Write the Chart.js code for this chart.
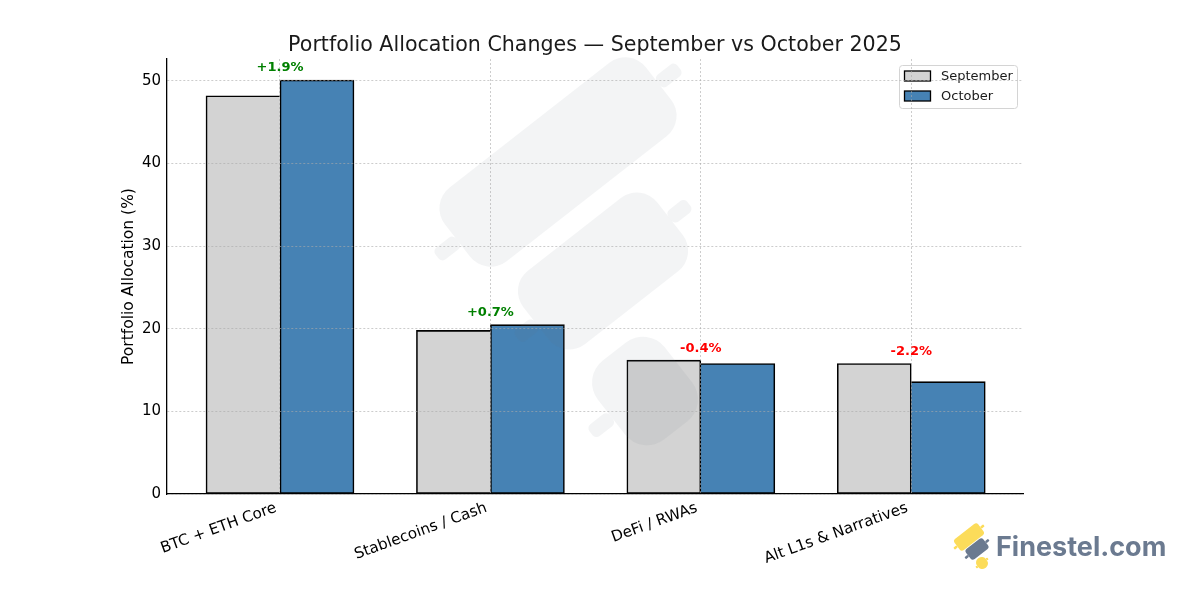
<!DOCTYPE html>
<html lang="en">
<head>
    <meta charset="UTF-8">
    <title>Portfolio Allocation Changes</title>
    <script src="https://cdnjs.cloudflare.com/ajax/libs/Chart.js/4.4.1/chart.umd.min.js"></script>
    <style>
        html, body { margin: 0; padding: 0; background: #fff; }
        #wrap { width: 1200px; height: 600px; }
    </style>
</head>
<body>
    <div id="wrap"><canvas id="allocationChart" width="1200" height="600"></canvas></div>

    <script>
        const categories = ["BTC + ETH Core", "Stablecoins / Cash", "DeFi / RWAs", "Alt L1s & Narratives"];
        const september = [48.2, 19.8, 16.2, 15.8];
        const october = [50.1, 20.5, 15.8, 13.6];
        const changes = [1.9, 0.7, -0.4, -2.2];

        const font = "'DejaVu Sans'";

        // rotated rounded box, used for the watermark and the logo candles
        function candle(ctx, cx, cy, len, wid, rad, wickLow, wickHigh, wickWid, color) {
            ctx.save();
            ctx.translate(cx, cy);
            ctx.rotate(-38 * Math.PI / 180);
            ctx.fillStyle = color;
            ctx.beginPath();
            ctx.roundRect(-len / 2, -wid / 2, len, wid, rad);
            ctx.fill();
            ctx.beginPath();
            if (wickLow) ctx.roundRect(-len / 2 - wickLow, -wickWid / 2, wickLow, wickWid, wickWid / 3);
            if (wickHigh) ctx.roundRect(len / 2, -wickWid / 2, wickHigh, wickWid, wickWid / 3);
            ctx.fill();
            ctx.restore();
        }

        const extras = {
            id: "extras",
            afterDatasetsDraw(chart) {
                const ctx = chart.ctx;
                const x = chart.scales.x;
                const y = chart.scales.y;

                // watermark sits over the bars
                const mark = "rgba(100,110,130,0.08)";
                candle(ctx, 558, 162, 255, 93, 26, 26, 26, 15, mark);
                candle(ctx, 603, 271, 170, 93, 26, 24, 24, 15, mark);
                candle(ctx, 645, 391, 85, 100, 28, 26, 0, 15, mark);

                // change labels
                ctx.save();
                ctx.font = "bold 13px " + font;
                ctx.textAlign = "center";
                ctx.textBaseline = "middle";
                changes.forEach((c, i) => {
                    const top = Math.max(september[i], october[i]);
                    ctx.fillStyle = c > 0 ? "#008000" : "#ff0000";
                    ctx.fillText((c > 0 ? "+" : "") + c.toFixed(1) + "%", x.getPixelForValue(i), y.getPixelForValue(top) - 12);
                });
                ctx.restore();

                // legend
                ctx.save();
                ctx.fillStyle = "rgba(255,255,255,0.85)";
                ctx.strokeStyle = "#d4d4d4";
                ctx.lineWidth = 1;
                ctx.beginPath();
                ctx.roundRect(899.5, 65.5, 118, 43, 3);
                ctx.fill();
                ctx.stroke();
                ctx.font = "13px " + font;
                ctx.textBaseline = "middle";
                chart.data.datasets.forEach((ds, i) => {
                    const top = 71 + i * 20;
                    ctx.fillStyle = ds.backgroundColor;
                    ctx.strokeStyle = "#000";
                    ctx.lineWidth = 1.3;
                    ctx.fillRect(904.5, top, 26, 10);
                    ctx.strokeRect(904.5, top, 26, 10);
                    ctx.fillStyle = "#1a1a1a";
                    ctx.fillText(ds.label, 941, top + 6);
                });
                ctx.restore();

                // logo
                candle(ctx, 969, 537, 30, 14, 3, 4, 4, 2.5, "#fcdc5a");
                candle(ctx, 977, 549, 22, 13, 3, 4, 4, 2.5, "#6b7a90");
                candle(ctx, 982, 563, 11, 12, 5, 2, 2, 2.5, "#fcdc5a");
                ctx.save();
                ctx.font = "bold 27px Inter";
                ctx.fillStyle = "#6b7a90";
                ctx.textBaseline = "middle";
                ctx.fillText("Finestel.com", 996, 548);
                ctx.restore();
            }
        };

        const allocationChart = new Chart("allocationChart", {
            type: "bar",
            data: {
                datasets: [{
                    label: "September",
                    data: september.map((v, i) => ({ x: i, y: v })),
                    backgroundColor: "#d3d3d3",
                    borderColor: "#000",
                    borderWidth: 1.6,
                    // the taller bar of a pair owns the shared edge
                    borderSkipped: (c) => october[c.dataIndex] > september[c.dataIndex] ? "right" : false,
                    barThickness: 74,
                }, {
                    label: "October",
                    data: october.map((v, i) => ({ x: i, y: v })),
                    backgroundColor: "#4682b4",
                    borderColor: "#000",
                    borderWidth: 1.6,
                    borderSkipped: (c) => october[c.dataIndex] > september[c.dataIndex] ? false : "left",
                    barThickness: 74,
                }]
            },
            options: {
                responsive: false,
                animation: false,
                devicePixelRatio: 1,
                layout: { padding: { top: 33, left: 120, right: 177, bottom: 9 } },
                plugins: {
                    legend: { display: false },
                    tooltip: { enabled: false },
                    title: {
                        display: true,
                        fullSize: false,
                        text: "Portfolio Allocation Changes \u2014 September vs October 2025",
                        color: "#1a1a1a",
                        font: { family: font, size: 20.6, weight: "normal" },
                        padding: { top: 0, bottom: 1.3 },
                    },
                },
                scales: {
                    x: {
                        type: "linear",
                        offset: false,
                        min: -0.537,
                        max: 3.531,
                        afterFit(axis) { axis.height = 97; },
                        grid: { color: "rgba(170,170,170,0.6)", z: 1, drawTicks: false, lineWidth: 1, offset: false },
                        border: { color: "#000", width: 1.3, dash: [2, 2], z: 1 },
                        ticks: {
                            stepSize: 1,
                            includeBounds: false,
                            autoSkip: false,
                            minRotation: 20,
                            maxRotation: 20,
                            padding: 5,
                            labelOffset: -4,
                            color: "#000",
                            font: { family: font, size: 15.2 },
                            callback: (v) => categories[v],
                        },
                    },
                    y: {
                        min: 0,
                        max: 52.65,
                        afterFit(axis) { axis.width = 47; },
                        grid: { color: "rgba(170,170,170,0.6)", z: 1, drawTicks: false, lineWidth: 1 },
                        border: { color: "#000", width: 1.3, dash: [2, 2], z: 1 },
                        title: {
                            display: true,
                            text: "Portfolio Allocation (%)",
                            color: "#000",
                            font: { family: font, size: 15.5 },
                            padding: { top: 0, bottom: 6 },
                        },
                        ticks: {
                            stepSize: 10,
                            includeBounds: false,
                            padding: 6,
                            color: "#000",
                            font: { family: font, size: 15 },
                        },
                    },
                },
            },
            plugins: [extras],
        });
    </script>
</body>
</html>
